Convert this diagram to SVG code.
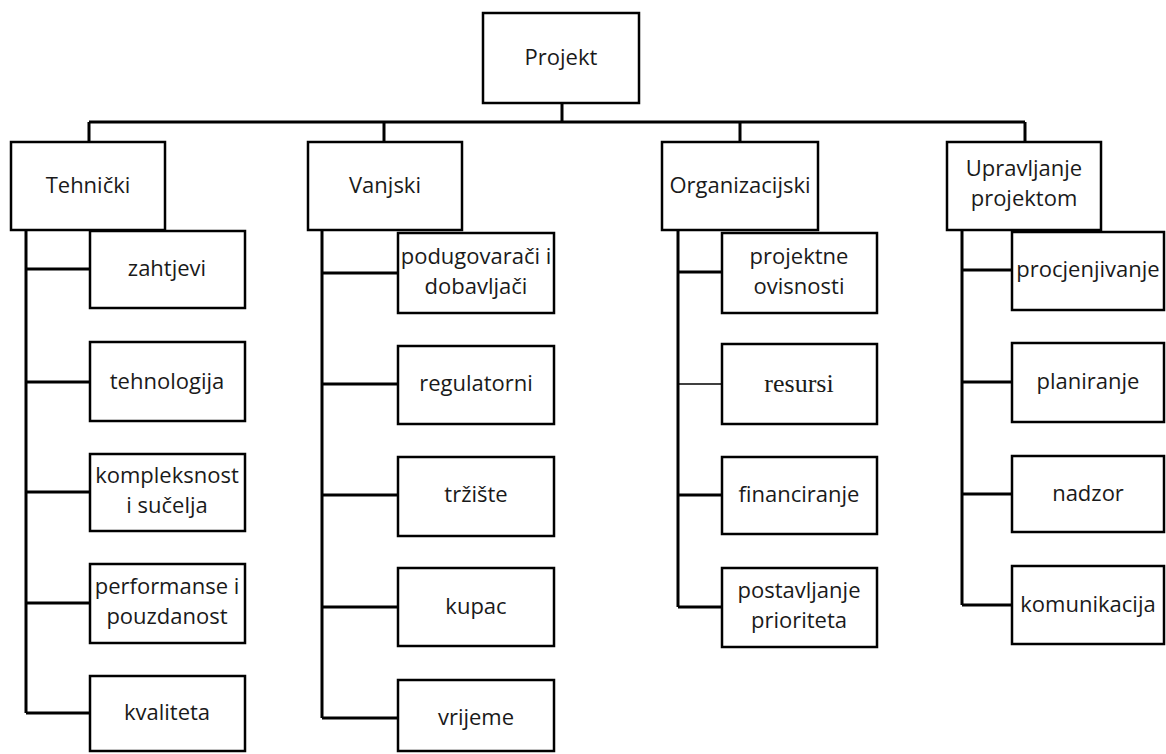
<svg xmlns="http://www.w3.org/2000/svg" width="1166" height="754" viewBox="0 0 1166 754">
<style>
.box{fill:#fff;stroke:#000;stroke-width:2.5}
.ln{fill:none;stroke:#000;stroke-width:3}
.thin{fill:none;stroke:#000;stroke-width:1.5}
text{font-family:"Open Sans","Noto Sans",sans-serif;font-size:22px;fill:#1a1a1a;text-anchor:middle}
.serif{font-family:"Liberation Serif",serif;font-size:26px}
</style>
<rect width="1166" height="754" fill="#fff"/>
<g id="connectors">
<path class="ln" d="M562 103V122M89 122H1025M89 122V142M384 122V142M740 122V142M1025 122V142"/>
<path class="ln" d="M26 230V713M26 269H90M26 382H90M26 492H90M26 603H90M26 713H90"/>
<path class="ln" d="M322 230V718M322 273H398M322 384H398M322 495H398M322 607H398M322 718H398"/>
<path class="ln" d="M678 230V607M678 272H722M678 495H722M678 607H722"/>
<path class="thin" d="M678 384H722"/>
<path class="ln" d="M962 230V605M962 270H1012M962 382H1012M962 494H1012M962 605H1012"/>
</g>
<g id="projekt"><rect class="box" x="483" y="13" width="156" height="90"/><text x="561" y="65">Projekt</text></g>
<g id="tehnicki"><rect class="box" x="11" y="142" width="154" height="88"/><text x="88" y="193">Tehnički</text></g>
<g id="vanjski"><rect class="box" x="308" y="142" width="154" height="88"/><text x="385" y="193">Vanjski</text></g>
<g id="organizacijski"><rect class="box" x="662" y="142" width="156" height="88"/><text x="740" y="193">Organizacijski</text></g>
<g id="upravljanje"><rect class="box" x="947" y="142" width="154" height="88"/><text x="1024" y="176">Upravljanje</text><text x="1024" y="206">projektom</text></g>

<g id="zahtjevi"><rect class="box" x="90" y="231" width="155" height="77"/><text x="167" y="276">zahtjevi</text></g>
<g id="tehnologija"><rect class="box" x="90" y="342" width="155" height="79"/><text x="167" y="389">tehnologija</text></g>
<g id="kompleksnost"><rect class="box" x="90" y="454" width="155" height="77"/><text x="167" y="483">kompleksnost</text><text x="167" y="513">i sučelja</text></g>
<g id="performanse"><rect class="box" x="90" y="564" width="155" height="79"/><text x="167" y="594">performanse i</text><text x="167" y="624">pouzdanost</text></g>
<g id="kvaliteta"><rect class="box" x="90" y="676" width="155" height="75"/><text x="167" y="720">kvaliteta</text></g>

<g id="podugovaraci"><rect class="box" x="398" y="233" width="156" height="80"/><text x="476" y="264">podugovarači i</text><text x="476" y="294">dobavljači</text></g>
<g id="regulatorni"><rect class="box" x="398" y="346" width="156" height="78"/><text x="476" y="391">regulatorni</text></g>
<g id="trziste"><rect class="box" x="398" y="457" width="156" height="79"/><text x="476" y="502">tržište</text></g>
<g id="kupac"><rect class="box" x="398" y="568" width="156" height="78"/><text x="476" y="614">kupac</text></g>
<g id="vrijeme"><rect class="box" x="398" y="680" width="156" height="71"/><text x="476" y="725">vrijeme</text></g>

<g id="projektne"><rect class="box" x="722" y="233" width="155" height="80"/><text x="799" y="264">projektne</text><text x="799" y="294">ovisnosti</text></g>
<g id="resursi"><rect class="box" x="722" y="344" width="155" height="80"/><text class="serif" x="799" y="392">resursi</text></g>
<g id="financiranje"><rect class="box" x="722" y="457" width="155" height="77"/><text x="799" y="502">financiranje</text></g>
<g id="postavljanje"><rect class="box" x="722" y="568" width="155" height="79"/><text x="799" y="598">postavljanje</text><text x="799" y="628">prioriteta</text></g>

<g id="procjenjivanje"><rect class="box" x="1012" y="232" width="152" height="78"/><text x="1088" y="277">procjenjivanje</text></g>
<g id="planiranje"><rect class="box" x="1012" y="343" width="152" height="79"/><text x="1088" y="389">planiranje</text></g>
<g id="nadzor"><rect class="box" x="1012" y="456" width="152" height="76"/><text x="1088" y="501">nadzor</text></g>
<g id="komunikacija"><rect class="box" x="1012" y="566" width="152" height="78"/><text x="1088" y="612">komunikacija</text></g>
</svg>
